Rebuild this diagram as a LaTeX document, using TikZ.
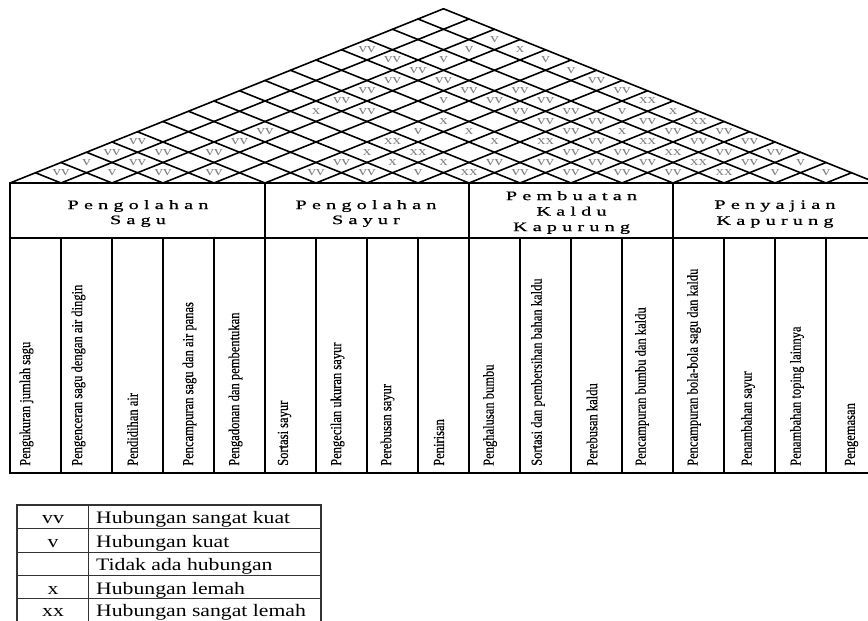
\documentclass[tikz,border=0pt]{standalone}
\usepackage{fontspec}
\usepackage{graphicx}
\setmainfont{Liberation Serif}
\newfontfamily\hdrfont[FakeBold=0.7]{Liberation Serif}
\newfontfamily\lblfont[FakeBold=0.5]{Liberation Serif}
\makeatletter
\def\hq@loop#1{\ifx#1\relax\else\scalebox{1.55}[1]{#1}\kern5.2pt\expandafter\hq@loop\fi}
\newcommand\hdrline[1]{\hq@loop#1\relax\kern-5.2pt}
\makeatother
\newcommand\lbltext[1]{\scalebox{0.82}[1]{#1}}
\newcommand\widetext[1]{\scalebox{1.24}[1]{#1}}
\begin{document}
\begin{tikzpicture}[x=1pt,y=-1pt,
  roofline/.style={line width=1.6pt, line cap=round},
  tbl/.style={line width=1.9pt},
  sym/.style={font=\fontsize{13}{13}\selectfont, text=black!50, inner sep=0pt},
  lbl/.style={rotate=90, anchor=west, inner sep=1pt, font=\lblfont\fontsize{15.3}{15.3}\selectfont},
  hdr/.style={align=center, inner sep=0pt, font=\hdrfont\fontsize{13}{15}\selectfont},
  hdrk/.style={align=center, inner sep=0pt, font=\hdrfont\fontsize{13}{15.5}\selectfont},
  hdrs/.style={align=center, inner sep=0pt, font=\hdrfont\fontsize{13}{16}\selectfont},
  leg/.style={line width=1.1pt, draw=black!80},
  legtxt/.style={anchor=base west, inner sep=0pt, font=\fontsize{17.5}{17.5}\selectfont},
  legsym/.style={anchor=base, inner sep=0pt, font=\fontsize{17.5}{17.5}\selectfont}]
\useasboundingbox (0,0) rectangle (868,621);
\clip (0,0) rectangle (868,621);

% ---- roof (correlation matrix) ----
\foreach \k in {0,...,16}
  \draw[roofline] ({10+51*\k},183) -- ({(10+51*\k+877)/2},{183-0.40196*(867-51*\k)/2});
\foreach \k in {1,...,17}
  \draw[roofline] ({10+51*\k},183) -- ({(10+51*\k+10)/2},{183-0.40196*(51*\k)/2});

\foreach \i/\j/\s in {
  1/2/vv,2/3/v,3/4/vv,4/5/vv,6/7/vv,7/8/vv,8/9/v,9/10/xx,10/11/vv,11/12/vv,12/13/vv,13/14/vv,14/15/xx,15/16/v,16/17/v,
  1/3/v,2/4/vv,6/8/vv,7/9/x,8/10/x,9/11/vv,10/12/vv,11/13/vv,12/14/vv,13/15/xx,14/16/vv,15/17/v,
  1/4/vv,2/5/vv,3/6/vv,6/9/x,7/10/xx,10/13/vv,11/14/vv,12/15/xx,13/16/vv,14/17/vv,
  1/5/vv,3/7/vv,6/10/xx,8/12/x,9/13/xx,10/14/vv,11/15/xx,12/16/vv,13/17/vv,
  3/8/vv,6/11/v,7/12/x,9/14/vv,10/15/x,11/16/vv,12/17/vv,
  6/12/x,8/14/vv,9/15/vv,10/16/vv,11/17/xx,
  3/10/x,4/11/vv,7/14/vv,8/15/vv,9/16/v,10/17/x,
  3/11/vv,5/13/v,6/14/vv,7/15/vv,9/17/xx,
  3/12/vv,5/14/vv,6/15/vv,8/17/vv,
  3/13/vv,4/14/vv,7/17/vv,
  3/14/vv,6/17/v,
  2/14/vv,3/15/v,5/17/v,
  1/14/vv,3/16/v,4/17/x,
  3/17/v}
  \node[sym] (r\i-\j) at ({10+25.5*(\i+\j-1)},{183-10.25*(\j-\i)}) {\scalebox{1.3}[1]{\s}};

% ---- table ----
\draw[tbl] (10,183) rectangle (877,473);
\draw[tbl] (10,238) -- (877,238);
\foreach \k in {5,9,13} \draw[tbl] ({10+51*\k},183) -- ({10+51*\k},473);
\foreach \k in {1,2,3,4,6,7,8,10,11,12,14,15,16} \draw[tbl] ({10+51*\k},238) -- ({10+51*\k},473);

\node[hdr]  (hSagu)  at (138,213.5) {\hdrline{Pengolahan}\\\hdrline{Sagu}};
\node[hdr]  (hSayur) at (366,213.5) {\hdrline{Pengolahan}\\\hdrline{Sayur}};
\node[hdrk] (hKaldu) at (571.5,212.5) {\hdrline{Pembuatan}\\\hdrline{Kaldu}\\\hdrline{Kapurung}};
\node[hdrs] (hSaji)  at (775,214)   {\hdrline{Penyajian}\\\hdrline{Kapurung}};

\foreach \k/\dx/\t in {
  1/-9/Pengukuran jumlah sagu,
  2/-8/Pengenceran sagu dengan air dingin,
  3/-5/Pendidihan air,
  4/1/Pencampuran sagu dan air panas,
  5/-4/Pengadonan dan pembentukan,
  6/-6/Sortasi sayur,
  7/-4/Pengecilan ukuran sayur,
  8/-5/Perebusan sayur,
  9/-4.5/Penirisan,
  10/-4.5/Penghalusan bumbu,
  11/-7.5/Sortasi dan pembersihan bahan kaldu,
  12/-4.5/Perebusan kaldu,
  13/-5.5/Pencampuran bumbu dan kaldu,
  14/-4.5/Pencampuran bola-bola sagu dan kaldu,
  15/-1.5/Penambahan sayur,
  16/-3.5/Penambahan toping lainnya,
  17/0/Pengemasan}
  \node[lbl] (lab\k) at ({10+51*(\k-0.5)+\dx},467) {\lbltext{\t}};

% ---- legend ----
\draw[leg] (17,505) rectangle (321,625);
\foreach \yy in {528.3,552.7,575.7,598.3} \draw[leg] (17,\yy) -- (321,\yy);
\draw[leg] (88.3,505) -- (88.3,625);

\node[legsym] (s1) at (53,523.3) {\widetext{vv}};
\node[legsym] (s2) at (53,547.3) {\widetext{v}};
\node[legsym] (s4) at (53,594)   {\widetext{x}};
\node[legsym] (s5) at (53,616.7) {\widetext{xx}};
\node[legtxt] (t1) at (96,523.3) {\widetext{Hubungan sangat kuat}};
\node[legtxt] (t2) at (96,547.3) {\widetext{Hubungan kuat}};
\node[legtxt] (t3) at (96,570.7) {\widetext{Tidak ada hubungan}};
\node[legtxt] (t4) at (96,594)   {\widetext{Hubungan lemah}};
\node[legtxt] (t5) at (96,616.7) {\widetext{Hubungan sangat lemah}};
\end{tikzpicture}
\end{document}
